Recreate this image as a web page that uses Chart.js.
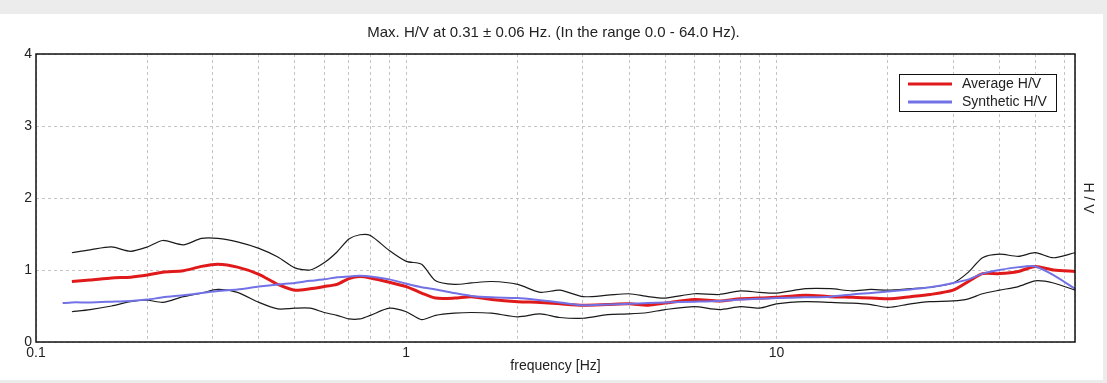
<!DOCTYPE html>
<html lang="en">
<head>
<meta charset="UTF-8">
<title>H/V</title>
<script src="https://cdn.jsdelivr.net/npm/chart.js@4.4.1/dist/chart.umd.min.js"></script>
<style>
  html, body { margin: 0; padding: 0; background: #ececec; }
  #panel { position: absolute; left: 0; top: 14px; width: 1103px; height: 366px; background: #fff; }
  #wrap { position: absolute; left: 0; top: 0; width: 1107px; height: 383px; }
</style>
</head>
<body>
<div id="panel"></div>
<div id="wrap"><canvas id="hv"></canvas></div>
<script>
// frequency samples [Hz]
const freqs = [0.118, 0.125, 0.14, 0.16, 0.18, 0.2, 0.22, 0.25, 0.28, 0.31,
  0.35, 0.4, 0.45, 0.5, 0.55, 0.6, 0.65, 0.7, 0.75, 0.8,
  0.9, 1.0, 1.1, 1.2, 1.35, 1.5, 1.7, 2, 2.3, 2.6,
  3, 3.5, 4, 4.5, 5, 6, 7, 8, 9, 10,
  12, 14, 16, 18, 20, 23, 26, 30, 33, 36,
  40, 45, 50, 56, 64];

const avgHV = [null, 0.84, 0.86, 0.89, 0.90, 0.93, 0.97, 0.99, 1.05, 1.08,
  1.04, 0.94, 0.80, 0.72, 0.74, 0.77, 0.80, 0.88, 0.91, 0.89,
  0.83, 0.77, 0.68, 0.61, 0.61, 0.63, 0.59, 0.56, 0.55, 0.53,
  0.51, 0.52, 0.53, 0.51, 0.54, 0.59, 0.57, 0.60, 0.61, 0.62,
  0.65, 0.63, 0.62, 0.61, 0.60, 0.63, 0.66, 0.72, 0.84, 0.95,
  0.95, 0.98, 1.05, 1.00, 0.98];

const synthHV = [0.54, 0.55, 0.55, 0.56, 0.57, 0.59, 0.62, 0.65, 0.68, 0.71,
  0.73, 0.77, 0.80, 0.82, 0.85, 0.87, 0.90, 0.91, 0.92, 0.91,
  0.87, 0.81, 0.76, 0.73, 0.68, 0.64, 0.62, 0.61, 0.58, 0.55,
  0.51, 0.52, 0.53, 0.54, 0.55, 0.56, 0.57, 0.59, 0.60, 0.61,
  0.62, 0.63, 0.66, 0.68, 0.70, 0.73, 0.76, 0.82, 0.87, 0.95,
  1.00, 1.04, 1.05, 0.93, 0.74];

const upperHV = [null, 1.24, 1.28, 1.32, 1.26, 1.32, 1.41, 1.35, 1.44, 1.44,
  1.39, 1.30, 1.18, 1.03, 1.00, 1.10, 1.25, 1.43, 1.49, 1.48,
  1.27, 1.12, 1.08, 0.85, 0.80, 0.82, 0.84, 0.80, 0.69, 0.72,
  0.63, 0.65, 0.67, 0.63, 0.61, 0.67, 0.66, 0.71, 0.69, 0.68,
  0.74, 0.74, 0.71, 0.73, 0.72, 0.74, 0.76, 0.82, 0.97, 1.17,
  1.22, 1.19, 1.24, 1.17, 1.24];

const lowerHV = [null, 0.42, 0.45, 0.50, 0.56, 0.58, 0.55, 0.63, 0.68, 0.73,
  0.69, 0.55, 0.46, 0.47, 0.47, 0.41, 0.37, 0.32, 0.32, 0.37,
  0.47, 0.42, 0.31, 0.37, 0.40, 0.41, 0.40, 0.35, 0.39, 0.34,
  0.33, 0.38, 0.39, 0.41, 0.45, 0.49, 0.45, 0.49, 0.47, 0.53,
  0.56, 0.55, 0.54, 0.52, 0.48, 0.53, 0.56, 0.57, 0.60, 0.67,
  0.72, 0.77, 0.85, 0.82, 0.72];

// grid lines on the log axis, and which of them get a label
const xGridTicks = [0.1, 0.2, 0.3, 0.4, 0.5, 0.6, 0.7, 0.8, 0.9,
  1, 2, 3, 4, 5, 6, 7, 8, 9, 10, 20, 30, 40, 50, 60, 64];
const xLabels = [0.1, 1, 10];

const FONT = '"Liberation Sans", Arial, sans-serif';
const pts = arr => freqs.map((f, i) => ({ x: f, y: arr[i] }));

// black frame around the plot
const framePlugin = {
  id: 'frame',
  afterDatasetsDraw(chart) {
    const a = chart.chartArea, ctx = chart.ctx;
    ctx.save();
    ctx.strokeStyle = '#111';
    ctx.lineWidth = 1.5;
    ctx.strokeRect(a.left, a.top, a.right - a.left, a.bottom - a.top);
    ctx.restore();
  }
};

// boxed legend in the upper right of the plot
const boxLegend = {
  id: 'boxLegend',
  afterDraw(chart) {
    const a = chart.chartArea, ctx = chart.ctx;
    const items = chart.data.datasets.filter(d => d.inLegend);
    const w = 157, h = 37;
    const x = a.right - 19 - w, y = a.top + 20;
    ctx.save();
    ctx.fillStyle = '#fff';
    ctx.fillRect(x, y, w, h);
    ctx.strokeStyle = '#111';
    ctx.lineWidth = 1;
    ctx.strokeRect(x + 0.5, y + 0.5, w, h);
    ctx.font = '14px ' + FONT;
    ctx.textBaseline = 'middle';
    items.forEach((d, i) => {
      const ly = y + 10 + i * 18;
      ctx.strokeStyle = d.borderColor;
      ctx.lineWidth = 3;
      ctx.beginPath();
      ctx.moveTo(x + 9, ly);
      ctx.lineTo(x + 53, ly);
      ctx.stroke();
      ctx.fillStyle = '#222';
      ctx.fillText(d.label, x + 63, ly);
    });
    ctx.restore();
  }
};

const line = (label, data, color, width, order, inLegend) => ({
  label, data: pts(data), borderColor: color, borderWidth: width,
  pointRadius: 0, tension: 0.25, fill: false, order, inLegend
});

new Chart(document.getElementById('hv'), {
  type: 'line',
  data: {
    datasets: [
      line('Average H/V', avgHV, '#e01a1a', 3, 1, true),
      line('Synthetic H/V', synthHV, '#7272e6', 2, 0, true),
      line('Upper', upperHV, '#1a1a1a', 1.2, 2, false),
      line('Lower', lowerHV, '#1a1a1a', 1.2, 2, false)
    ]
  },
  plugins: [framePlugin, boxLegend],
  options: {
    responsive: true,
    maintainAspectRatio: false,
    animation: false,
    layout: { padding: 0 },
    plugins: {
      legend: { display: false },
      tooltip: { enabled: false },
      title: {
        display: true,
        text: 'Max. H/V at 0.31 \u00b1 0.06 Hz. (In the range 0.0 - 64.0 Hz).',
        color: '#222',
        font: { family: FONT, size: 15, weight: 'normal' },
        padding: { top: 24, bottom: 12 }
      }
    },
    scales: {
      x: {
        type: 'logarithmic',
        min: 0.1,
        max: 64,
        afterBuildTicks: s => { s.ticks = xGridTicks.map(v => ({ value: v })); },
        afterFit: s => { s.height = 41; },
        ticks: {
          autoSkip: false,
          maxRotation: 0,
          padding: 3,
          color: '#222',
          font: { family: FONT, size: 14 },
          callback: v => (xLabels.includes(v) ? String(v) : '')
        },
        grid: { color: '#c4c4c4', drawTicks: false },
        border: { display: false, dash: [3, 3] },
        title: {
          display: true,
          text: 'frequency [Hz]',
          color: '#222',
          font: { family: FONT, size: 14 },
          padding: { top: 0, bottom: 8 }
        }
      },
      y: {
        min: 0,
        max: 4,
        afterFit: s => { s.width = 36; },
        ticks: {
          stepSize: 1,
          padding: 4,
          color: '#222',
          font: { family: FONT, size: 14 }
        },
        grid: { color: '#c4c4c4', drawTicks: false },
        border: { display: false, dash: [3, 3] }
      },
      yTitle: {
        position: 'right',
        min: 0,
        max: 4,
        afterFit: s => { s.width = 32; },
        ticks: { display: false },
        grid: { display: false },
        border: { display: false },
        title: {
          display: true,
          text: 'H / V',
          color: '#222',
          font: { family: FONT, size: 14 },
          padding: { top: 11, bottom: 0 }
        }
      }
    }
  }
});
</script>
</body>
</html>
